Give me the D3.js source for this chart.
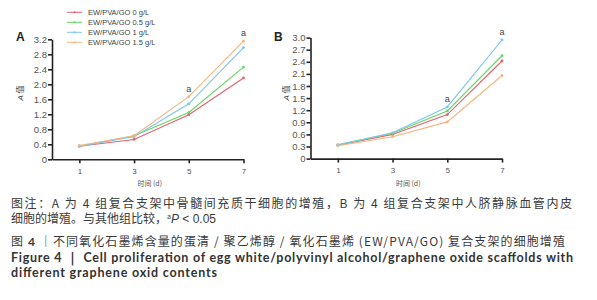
<!doctype html>
<html lang="zh">
<head>
  <meta charset="utf-8">
  <style>
    body { margin: 0; background: #fff; }
    svg { display: block; }
    .tick text { font-family: "Liberation Sans", Arial, sans-serif; fill: #555; }
    .cap { font-family: "Noto Sans CJK SC", sans-serif; fill: #3a3a3a; }
    .capen { font-family: Lato, "Noto Sans", sans-serif; font-weight: bold; fill: #333; }
  </style>
  <script src="https://d3js.org/d3.v7.min.js"></script>
</head>
<body>
<script>
const days = [1, 3, 5, 7];
const groups = ["EW/PVA/GO 0 g/L", "EW/PVA/GO 0.5 g/L", "EW/PVA/GO 1 g/L", "EW/PVA/GO 1.5 g/L"];
const colors = ["#e5606e", "#62d862", "#7cc6ee", "#f5b57e"];

// panel A: bone marrow MSC
const a0 = [0.35, 0.53, 1.19, 2.17];
const a05 = [0.35, 0.63, 1.25, 2.46];
const a1 = [0.35, 0.60, 1.48, 2.98];
const a15 = [0.37, 0.63, 1.67, 3.15];
const ticksA = [0, 0.4, 0.8, 1.2, 1.6, 2.0, 2.4, 2.8, 3.2];

// panel B: HUVEC
const b0 = [0.33, 0.60, 1.09, 2.42];
const b05 = [0.34, 0.63, 1.18, 2.55];
const b1 = [0.34, 0.64, 1.28, 2.94];
const b15 = [0.32, 0.54, 0.91, 2.06];
const ticksB = [0, 0.3, 0.6, 0.9, 1.2, 1.5, 1.8, 2.1, 2.4, 2.7, 3.0];

const svg = d3.select("body").append("svg")
  .attr("width", 597).attr("height", 300);

function panel(opt) {
  const x = d3.scaleLinear().domain([0, 7]).range(opt.xr);
  const y = d3.scaleLinear().domain([0, opt.ymax]).range(opt.yr);

  const gy = svg.append("g")
    .attr("transform", `translate(${opt.xr[0]},0)`)
    .call(d3.axisLeft(y).tickValues(opt.ticks)
      .tickFormat(d => d === 0 ? "0" : d3.format(".1f")(d))
      .tickSize(4).tickPadding(1).tickSizeOuter(0));
  gy.selectAll("text").style("font-size", "9.5px");

  const gx = svg.append("g")
    .attr("transform", `translate(0,${opt.yr[0]})`)
    .call(d3.axisBottom(x).tickValues(days).tickFormat(d3.format("d"))
      .tickSize(4).tickPadding(5).tickSizeOuter(0));
  gx.selectAll("text").style("font-size", "8px");

  svg.selectAll(".domain, .tick line").attr("stroke", "#222").attr("stroke-width", 1.6);

  const line = d3.line().x((d, i) => x(days[i])).y(d => y(d));
  opt.series.forEach((s, k) => {
    svg.append("path").datum(s)
      .attr("fill", "none").attr("stroke", colors[k]).attr("stroke-width", 1.1)
      .attr("d", line);
    svg.append("g").selectAll("circle").data(s).join("circle")
      .attr("cx", (d, i) => x(days[i])).attr("cy", d => y(d)).attr("r", 1.4)
      .attr("fill", colors[k]);
  });

  // significance marks
  opt.marks.forEach(m => {
    svg.append("text")
      .attr("x", x(m[0])).attr("y", y(m[1]) - 5)
      .attr("text-anchor", "middle")
      .style("font", "9px 'Liberation Sans', Arial, sans-serif").style("fill", "#444")
      .text("a");
  });

  svg.append("text")
    .attr("x", opt.letter[0]).attr("y", opt.letter[1])
    .style("font", "bold 12px 'Liberation Sans', Arial, sans-serif").style("fill", "#222")
    .text(opt.name);

  svg.append("text")
    .attr("transform", `translate(${opt.ylab},93) rotate(-90)`)
    .attr("text-anchor", "middle")
    .style("font-family", "'Noto Sans CJK SC', sans-serif").style("font-size", "8px").style("fill", "#444")
    .html("<tspan font-style='italic' font-family='Liberation Sans'>A</tspan> 值");

  svg.append("text")
    .attr("x", (opt.xr[0] + opt.xr[1]) / 2 + 2).attr("y", 186)
    .attr("text-anchor", "middle")
    .style("font-family", "'Noto Sans CJK SC', sans-serif").style("font-size", "7px").style("fill", "#555")
    .text("时间 (d)");
}

panel({
  name: "A", xr: [52, 243.5], yr: [159.3, 39.3], ymax: 3.2, ticks: ticksA,
  series: [a0, a05, a1, a15], marks: [[5, a15[2]], [7, a15[3]]],
  letter: [16, 41], ylab: 23
});
panel({
  name: "B", xr: [310.5, 502], yr: [158.6, 37.6], ymax: 3.0, ticks: ticksB,
  series: [b0, b05, b1, b15], marks: [[5, b1[2]], [7, b1[3]]],
  letter: [274, 41], ylab: 289
});

// legend
const leg = svg.append("g");
groups.forEach((g, i) => {
  const yy = 12.3 + i * 10;
  leg.append("line").attr("x1", 67).attr("x2", 82).attr("y1", yy).attr("y2", yy)
    .attr("stroke", colors[i]).attr("stroke-width", 1);
  leg.append("circle").attr("cx", 74.5).attr("cy", yy).attr("r", 1).attr("fill", colors[i]);
  leg.append("text").attr("x", 88).attr("y", yy + 2.6)
    .style("font", "7.5px 'Liberation Sans', Arial, sans-serif").style("fill", "#444")
    .text(g);
});

// caption
const cap1 = svg.append("text").attr("class", "cap").attr("x", 11).attr("y", 207.5)
  .style("font-size", "12px").attr("textLength", 561).attr("lengthAdjust", "spacing")
  .text("图注：A 为 4 组复合支架中骨髓间充质干细胞的增殖，B 为 4 组复合支架中人脐静脉血管内皮");

const cap2 = svg.append("text").attr("class", "cap").attr("x", 11).attr("y", 223)
  .style("font-size", "12px").text("细胞的增殖。与其他组比较，");
cap2.append("tspan").attr("font-size", "7px").attr("dy", -4).text("a");
cap2.append("tspan").attr("font-style", "italic").attr("dy", 4).attr("font-family", "Liberation Sans").text("P");
cap2.append("tspan").attr("font-family", "Liberation Sans").text(" < 0.05");

const cap3 = svg.append("text").attr("class", "cap").attr("x", 11).attr("y", 245.5)
  .style("font-size", "12px").attr("textLength", 554).attr("lengthAdjust", "spacing");
cap3.append("tspan").text("图 ");
cap3.append("tspan").attr("font-weight", "bold").attr("font-family", "Lato").text("4");
cap3.append("tspan").text(" ｜不同氧化石墨烯含量的蛋清 / 聚乙烯醇 / 氧化石墨烯 (EW/PVA/GO) 复合支架的细胞增殖");

svg.append("text").attr("class", "capen").attr("x", 11).attr("y", 261.5)
  .style("font-size", "12.5px").attr("textLength", 562).attr("lengthAdjust", "spacing")
  .text("Figure 4  ｜  Cell proliferation of egg white/polyvinyl alcohol/graphene oxide scaffolds with");
svg.append("text").attr("class", "capen").attr("x", 11).attr("y", 277)
  .style("font-size", "12.5px").attr("textLength", 206).attr("lengthAdjust", "spacing")
  .text("different graphene oxid contents");
</script>
</body>
</html>
